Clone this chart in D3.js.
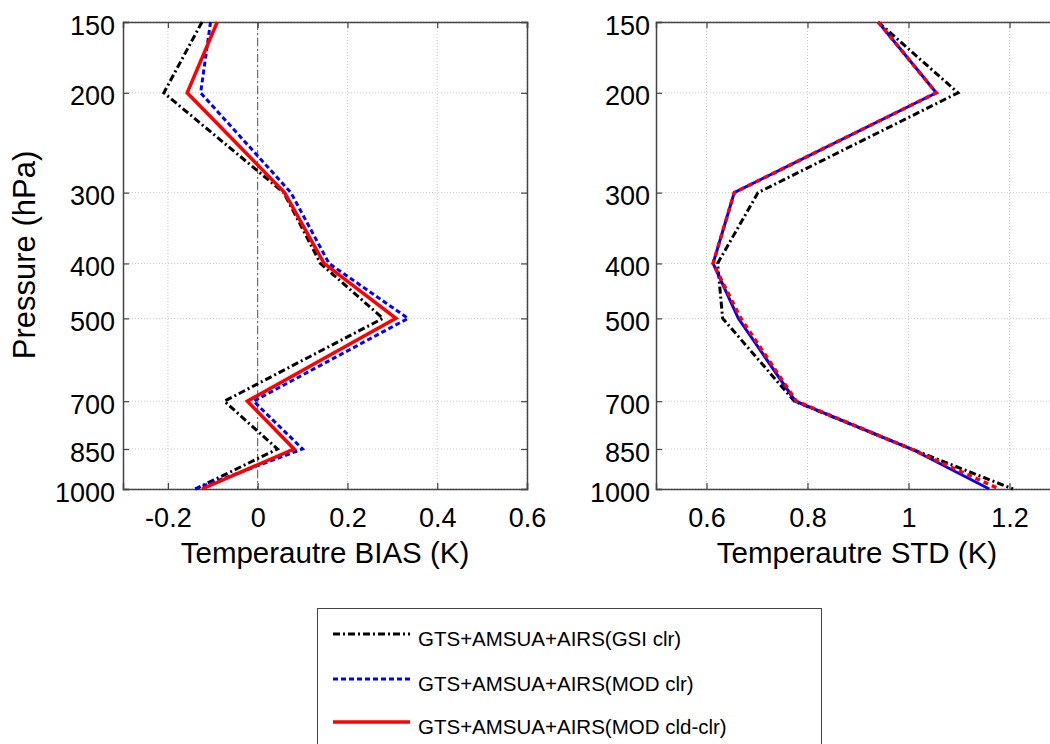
<!DOCTYPE html>
<html>
<head>
<meta charset="utf-8">
<script src="https://cdn.jsdelivr.net/npm/d3@7"></script>
<style>
  body { margin: 0; background: #fff; }
  svg { font-family: "Liberation Sans", Arial, sans-serif; }
</style>
</head>
<body>
<svg width="1050" height="744"></svg>
<script>
// pressure levels (hPa)
var levels = [150, 200, 300, 400, 500, 700, 850, 1000];

// bias (K)
var biasGsi = [-0.124, -0.209, 0.058, 0.14, 0.279, -0.074, 0.044, -0.139];
var biasMod = [-0.105, -0.127, 0.074, 0.159, 0.335, -0.009, 0.1, -0.139];
var biasCld = [-0.09, -0.157, 0.06, 0.148, 0.308, -0.023, 0.081, -0.124];

// std (K)
var stdGsi = [0.94, 1.098, 0.702, 0.622, 0.632, 0.774, 1.006, 1.207];
var stdMod = [0.94, 1.055, 0.655, 0.613, 0.663, 0.776, 1.006, 1.16];
var stdCld = [0.94, 1.055, 0.655, 0.613, 0.668, 0.778, 1.005, 1.18];

var biasTicks = [-0.2, 0, 0.2, 0.4, 0.6];
var stdTicks = [0.6, 0.8, 1, 1.2];

var seriesNames = ["GTS+AMSUA+AIRS(GSI clr)", "GTS+AMSUA+AIRS(MOD clr)", "GTS+AMSUA+AIRS(MOD cld-clr)"];

// legend / left panel styles
var styles = [
  {color: "#000", dash: "7,3,2,3", width: 3},
  {color: "#0000ff", dash: "5,3", width: 3},
  {color: "#ff0000", dash: null, width: 3.5}
];
// in the STD panel blue shows solid under the red dashes
var stdStyles = [
  {color: "#000", dash: "7,3,2,3", width: 3},
  {color: "#0000ff", dash: null, width: 3},
  {color: "#ff0000", dash: "5,4", width: 3.5}
];

var svg = d3.select("svg");
var top_ = 22, bottom = 489;

var yScale = d3.scaleLog().domain([150, 1000]).range([top_, bottom]);

var fmt = function(d){ return String(+d.toFixed(1)); };

var panel = function(x0, x1, domain, ticks, series, sty, title, titleX, zeroLine, ypad) {
  var xScale = d3.scaleLinear().domain(domain).range([x0, x1]);
  var g = svg.append("g");

  // grid
  g.selectAll(".gx").data(ticks).enter().append("line")
    .attr("x1", function(d){ return xScale(d); })
    .attr("x2", function(d){ return xScale(d); })
    .attr("y1", top_).attr("y2", bottom)
    .attr("stroke", "#c8c8c8").attr("stroke-width", 1).attr("stroke-dasharray", "1,2");
  g.selectAll(".gy").data(levels).enter().append("line")
    .attr("x1", x0).attr("x2", x1)
    .attr("y1", function(d){ return yScale(d); })
    .attr("y2", function(d){ return yScale(d); })
    .attr("stroke", "#c8c8c8").attr("stroke-width", 1).attr("stroke-dasharray", "1,2");

  if (zeroLine) {
    g.append("line")
      .attr("x1", xScale(0)).attr("x2", xScale(0))
      .attr("y1", top_).attr("y2", bottom)
      .attr("stroke", "#555").attr("stroke-width", 1).attr("stroke-dasharray", "8,3,2,3");
  }

  // axes with inward ticks on all sides
  var axB = d3.axisBottom(xScale).tickValues(ticks).tickSize(-6).tickPadding(19).tickFormat(fmt);
  var axT = d3.axisTop(xScale).tickValues(ticks).tickSize(-6).tickFormat("");
  var axL = d3.axisLeft(yScale).tickValues(levels).tickSize(-6).tickPadding(ypad)
    .tickFormat(d3.format("d"));
  var axR = d3.axisRight(yScale).tickValues(levels).tickSize(-6).tickFormat("");

  [[axB, "translate(0," + bottom + ")"], [axT, "translate(0," + top_ + ")"],
   [axL, "translate(" + x0 + ",0)"], [axR, "translate(" + x1 + ",0)"]].forEach(function(a, k){
    var ag = g.append("g").attr("transform", a[1]).call(a[0]);
    ag.select(".domain").attr("stroke", "#444").attr("stroke-width", 1.5);
    ag.selectAll(".tick line").attr("stroke", "#444").attr("stroke-width", 1.2);
    ag.selectAll("text").attr("font-size", 27).attr("fill", "#000");
    if (k == 2) ag.selectAll("text").attr("dy", "0.45em");
  });

  // lines
  var line = d3.line()
    .x(function(d){ return xScale(d.v); })
    .y(function(d){ return yScale(d.p); });

  series.forEach(function(vals, i){
    var pts = vals.map(function(v, j){ return {v: v, p: levels[j]}; });
    g.append("path")
      .datum(pts)
      .attr("d", line)
      .attr("fill", "none")
      .attr("stroke", sty[i].color)
      .attr("stroke-width", sty[i].width)
      .attr("stroke-dasharray", sty[i].dash)
      .attr("stroke-linejoin", "miter");
  });

  g.append("text")
    .attr("x", titleX)
    .attr("y", 563)
    .attr("text-anchor", "middle")
    .attr("font-size", 29.5)
    .text(title);
};

panel(123, 527, [-0.3, 0.6], biasTicks, [biasGsi, biasMod, biasCld], styles, "Temperautre BIAS (K)", 325, true, 8);
panel(656, 1060, [0.5, 1.3], stdTicks, [stdGsi, stdMod, stdCld], stdStyles, "Temperautre STD (K)", 857, false, 6);

svg.append("text")
  .attr("transform", "translate(35,255) rotate(-90)")
  .attr("text-anchor", "middle")
  .attr("font-size", 31)
  .text("Pressure (hPa)");

// legend
var lg = svg.append("g");
lg.append("rect")
  .attr("x", 317.5).attr("y", 608.5).attr("width", 504).attr("height", 150)
  .attr("fill", "#fff").attr("stroke", "#444").attr("stroke-width", 1);

var rowY = [634, 679, 722];
seriesNames.forEach(function(name, i){
  lg.append("line")
    .attr("x1", 333).attr("x2", 410)
    .attr("y1", rowY[i]).attr("y2", rowY[i])
    .attr("stroke", styles[i].color)
    .attr("stroke-width", styles[i].width)
    .attr("stroke-dasharray", styles[i].dash);
  lg.append("text")
    .attr("x", 418).attr("y", rowY[i] + 12)
    .attr("font-size", 20.5)
    .text(name);
});
</script>
</body>
</html>
